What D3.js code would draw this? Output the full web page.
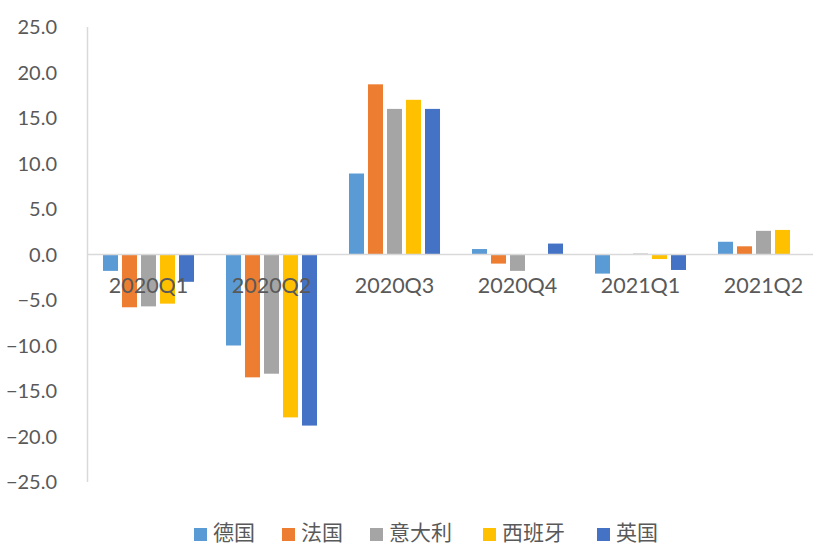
<!DOCTYPE html>
<html><head><meta charset="utf-8">
<script src="https://cdn.jsdelivr.net/npm/d3@7"></script>
<style>body{margin:0;background:#fff}svg{display:block}</style>
</head><body><svg id="c" width="813" height="545"></svg>
<script>
const categories = ["2020Q1","2020Q2","2020Q3","2020Q4","2021Q1","2021Q2"];
const seriesNames = ["德国","法国","意大利","西班牙","英国"];
const seriesColors = ["#5B9BD5","#ED7D31","#A5A5A5","#FFC000","#4472C4"];
const germany = [-1.8,-10.0,8.9,0.6,-2.1,1.4];
const france  = [-5.8,-13.5,18.7,-1.0,0.0,0.9];
const italy   = [-5.7,-13.1,16.0,-1.8,0.1,2.6];
const spain   = [-5.4,-17.9,17.0,0.0,-0.5,2.7];
const uk      = [-3.0,-18.8,16.0,1.2,-1.7,null];
const yTicks = [-25,-20,-15,-10,-5,0,5,10,15,20,25];

const series = [germany,france,italy,spain,uk];
const svg = d3.select("#c");
const font = "Lato, 'Noto Sans', sans-serif";
const textColor = "#595959";

const y = d3.scaleLinear().domain([-25,25]).range([482,27]);
const x0 = d3.scaleBand().domain(categories).range([87,825]).paddingInner(0.26).paddingOuter(0.13);
const x1 = d3.scaleBand().domain(d3.range(5)).range([0,x0.bandwidth()]).paddingInner(0.2105);

// y axis line
svg.append("line").attr("x1",87.5).attr("x2",87.5).attr("y1",y(25)).attr("y2",y(-25))
  .attr("stroke","#d9d9d9").attr("stroke-width",1.5);

// y tick labels
svg.append("g").selectAll("text").data(yTicks).join("text")
  .attr("x",57).attr("y",d=>y(d)).attr("dy","0.35em").attr("text-anchor","end")
  .attr("font-family",font).attr("font-size",20).attr("fill",textColor)
  .text(d=>d3.format(".1f")(d));

// bars
const g = svg.append("g");
categories.forEach((c,i)=>{
  series.forEach((s,j)=>{
    const v = s[i];
    if (v===null || v===0) return;
    g.append("rect")
      .attr("x", x0(c)+x1(j))
      .attr("width", x1.bandwidth())
      .attr("y", y(Math.max(0,v)))
      .attr("height", Math.abs(y(v)-y(0)))
      .attr("fill", seriesColors[j]);
  });
});

// zero line
svg.append("line").attr("x1",87).attr("x2",813).attr("y1",y(0)).attr("y2",y(0))
  .attr("stroke","#d9d9d9").attr("stroke-width",1.5);

// category labels
svg.append("g").selectAll("text").data(categories).join("text")
  .attr("x",d=>x0(d)+x0.bandwidth()/2).attr("y",y(0)+31).attr("dy","0.35em")
  .attr("text-anchor","middle").attr("font-family",font).attr("font-size",21.5)
  .attr("fill",textColor).text(d=>d);

// legend
const legendX = [194,282,370,483,597];
const lg = svg.append("g");
seriesNames.forEach((n,j)=>{
  lg.append("rect").attr("x",legendX[j]).attr("y",528).attr("width",13).attr("height",13).attr("fill",seriesColors[j]);
  lg.append("text").attr("x",legendX[j]+19).attr("y",540)
    .attr("font-family","'Noto Sans CJK SC', sans-serif").attr("font-size",21)
    .attr("fill",textColor).text(n);
});
</script></body></html>
